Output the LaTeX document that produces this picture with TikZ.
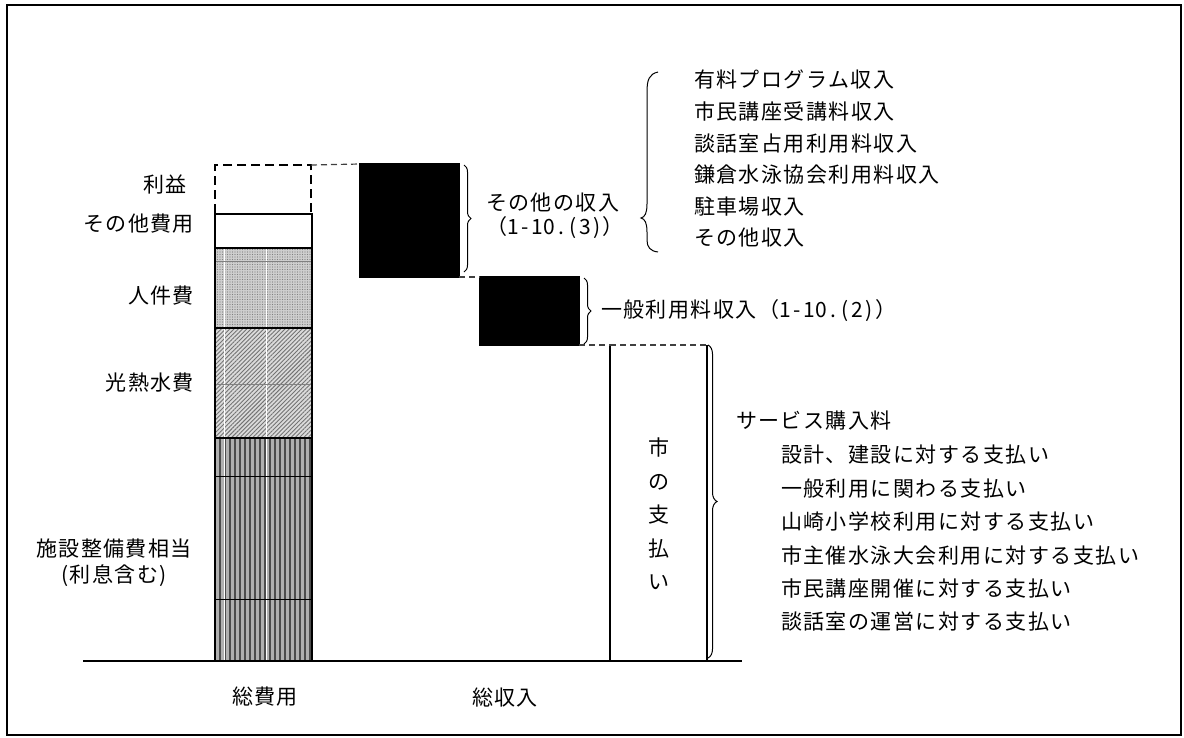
\documentclass[tikz,border=0pt]{standalone}
\usepackage{fontspec}
\setmainfont{Noto Sans CJK JP}[LetterSpace=7]
\usetikzlibrary{patterns.meta,decorations.pathreplacing,calc}
\newcommand\hwc[1]{\makebox[12pt]{#1}}
\begin{document}
\begin{tikzpicture}[x=1pt,y=-1pt,
  seg/.style={draw=black, line width=1.6pt, inner sep=0pt, outer sep=0pt,
    minimum width=97pt, anchor=north west},
  lbl/.style={font=\fontsize{21}{30}\selectfont, inner sep=0pt, outer sep=0pt},
  brc/.style={decorate, decoration={brace, amplitude=7pt}, line width=1pt},
  dsh/.style={dash pattern=on 6pt off 4pt, line width=1.2pt, draw=black!75}
]
\useasboundingbox (0,0) rectangle (1184,737);
\draw[line width=2pt] (7,5) rectangle (1181,735);

% baseline
\coordinate (bl) at (83,661);
\coordinate (br) at (742,661);
\draw[line width=1.6pt] (bl) -- (br);

% cost bar
\node[seg, minimum height=223pt, preaction={fill=gray!62},
  pattern={Lines[angle=90,distance=5pt,line width=2.2pt]}, pattern color=black!70,
  path picture={
    \draw[white, line width=1pt] ([xshift=9pt]path picture bounding box.north west) -- ([xshift=9pt]path picture bounding box.south west);
    \draw[white, line width=1pt] ([xshift=51pt]path picture bounding box.north west) -- ([xshift=51pt]path picture bounding box.south west);
    \draw[black, line width=0.8pt] ([yshift=-38pt]path picture bounding box.north west) -- ([yshift=-38pt]path picture bounding box.north east);
    \draw[black, line width=0.8pt] ([yshift=-161pt]path picture bounding box.north west) -- ([yshift=-161pt]path picture bounding box.north east);
  }] (cdev) at (215,438) {};
\node[seg, minimum height=110pt, preaction={fill=gray!28},
  pattern={Lines[angle=45,distance=3pt,line width=0.9pt]}, pattern color=black!55,
  path picture={
    \draw[white, line width=1pt] ([xshift=9pt]path picture bounding box.north west) -- ([xshift=9pt]path picture bounding box.south west);
    \draw[white, line width=1pt] ([xshift=51pt]path picture bounding box.north west) -- ([xshift=51pt]path picture bounding box.south west);
    \draw[black!50, line width=0.8pt] ([yshift=-56pt]path picture bounding box.north west) -- ([yshift=-56pt]path picture bounding box.north east);
  }] (cutil) at (215,328) {};
\node[seg, minimum height=80pt, preaction={fill=gray!38},
  pattern={Dots[distance=2.5pt,radius=0.7pt]}, pattern color=black!50,
  path picture={
    \draw[white, line width=1pt] ([xshift=9pt]path picture bounding box.north west) -- ([xshift=9pt]path picture bounding box.south west);
    \draw[white, line width=1pt] ([xshift=51pt]path picture bounding box.north west) -- ([xshift=51pt]path picture bounding box.south west);
    \draw[black!50, line width=0.8pt] ([yshift=-13pt]path picture bounding box.north west) -- ([yshift=-13pt]path picture bounding box.north east);
  }] (cstaff) at (215,248) {};
\node[seg, minimum height=34pt, fill=white] (cother) at (215,214) {};
\node[seg, minimum height=49pt, minimum width=96pt, dash pattern=on 9pt off 5pt, line width=1.8pt] (cprofit) at (215,165) {};

% revenue boxes
\node[seg, minimum height=113pt, minimum width=99pt, fill=black] (rother) at (360,164) {};
\node[seg, minimum height=68pt, minimum width=99pt, fill=black] (rgen) at (480,277) {};
\node[anchor=north west, inner sep=0pt, outer sep=0pt, minimum width=97pt, minimum height=316pt] (rcity) at (610,345) {};
\draw[line width=1.4pt] (rcity.north west) -- (rcity.south west) -- (rcity.south east) -- (rcity.north east);

% dashed connectors
\draw[dsh] (cprofit.north east) -- (rother.north west);
\draw[dsh] (rother.south east) -- (rgen.south west |- rother.south east);
\draw[dsh] (rgen.south east) -- (rcity.north west);
\draw[dsh] (rcity.north west) -- (rcity.north east);

% vertical text
\node[lbl, align=center, font=\fontsize{21}{33.5}\selectfont] (city) at (659,514) {市\\の\\支\\払\\い};

% braces
\draw[brc] ($(rother.north east)+(5,1)$) -- ($(rother.south east)+(5,-5)$);
\draw[brc] ($(rgen.north east)+(5,1)$) -- ($(rgen.south east)+(5,-1)$);
\draw[brc, decoration={brace, amplitude=9pt}] ($(rcity.north east)+(1,0)$) -- ($(rcity.south east)+(1,-3)$);
\draw[line width=1pt] (658,72) .. controls (649,74) and (647,80) .. (647,92)
  -- (647,204) .. controls (647,213) and (645,217) .. (641,218)
  .. controls (645,219) and (647,223) .. (647,232)
  -- (647,240) .. controls (647,247) and (650,251) .. (658,252);

% left labels
\node[lbl, anchor=east] (lprofit) at (187,185) {利益};
\node[lbl, anchor=east] (lother) at (194,224) {その他費用};
\node[lbl, anchor=east] (lstaff) at (194,296) {人件費};
\node[lbl, anchor=east] (lutil) at (194,383) {光熱水費};
\node[lbl, align=center, font=\fontsize{21}{26}\selectfont] (ldev) at (114,563) {施設整備費相当\\(利息含む)};
\node[lbl] (tcost) at (265,697) {総費用};
\node[lbl] (trev) at (505,697) {総収入};

% revenue labels
\node[lbl, anchor=west] (lro1) at (486,203) {その他の収入};
\node[lbl, anchor=west] (lro2) at (486,228) {（\hwc{1}\hwc{-}\hwc{1}\hwc{0}\hwc{.}\hwc{(}\hwc{3}\hwc{)}）};
\node[lbl, anchor=west] (lrg) at (601,311) {一般利用料収入（\hwc{1}\hwc{-}\hwc{1}\hwc{0}\hwc{.}\hwc{(}\hwc{2}\hwc{)}）};

\node[lbl, anchor=west] (o1) at (694,80) {有料プログラム収入};
\node[lbl, anchor=west] (o2) at (694,111.6) {市民講座受講料収入};
\node[lbl, anchor=west] (o3) at (694,143.2) {談話室占用利用料収入};
\node[lbl, anchor=west] (o4) at (694,174.8) {鎌倉水泳協会利用料収入};
\node[lbl, anchor=west] (o5) at (694,206.4) {駐車場収入};
\node[lbl, anchor=west] (o6) at (694,238) {その他収入};

\node[lbl, anchor=west] (s0) at (736,421) {サービス購入料};
\node[lbl, anchor=west] (s1) at (781,455) {設計、建設に対する支払い};
\node[lbl, anchor=west] (s2) at (781,488.4) {一般利用に関わる支払い};
\node[lbl, anchor=west] (s3) at (781,521.8) {山崎小学校利用に対する支払い};
\node[lbl, anchor=west] (s4) at (781,555.2) {市主催水泳大会利用に対する支払い};
\node[lbl, anchor=west] (s5) at (781,588.6) {市民講座開催に対する支払い};
\node[lbl, anchor=west] (s6) at (781,622) {談話室の運営に対する支払い};
\end{tikzpicture}
\end{document}
